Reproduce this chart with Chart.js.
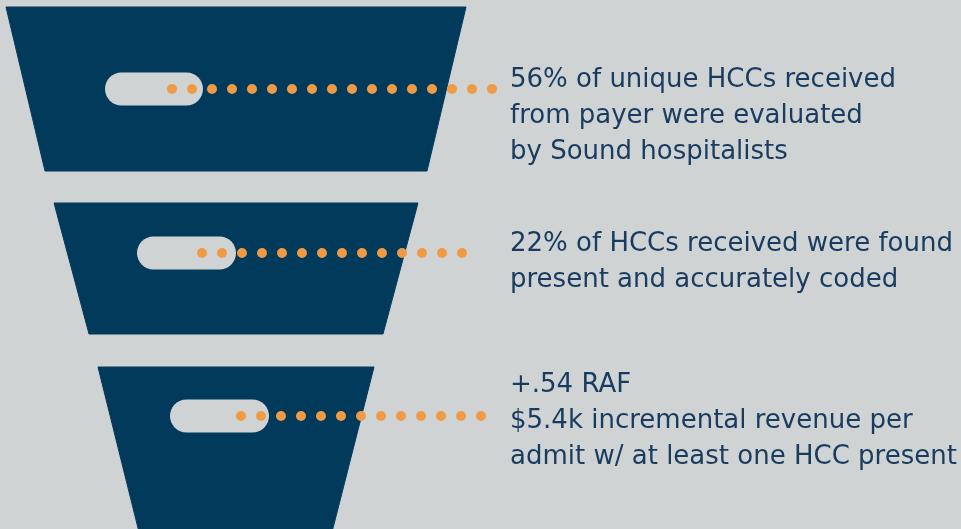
<!DOCTYPE html>
<html>
<head>
<meta charset="utf-8">
<script src="https://cdn.jsdelivr.net/npm/chart.js@4/dist/chart.umd.min.js"></script>
<style>
  html, body { margin: 0; padding: 0; background: #cfd3d4; }
  canvas { display: block; }
</style>
</head>
<body>
<canvas id="funnel" width="961" height="529"></canvas>
<script>
// Các tầng của phễu (toạ độ trên trục của biểu đồ)
const stageTop = [7, 203, 367];
const stageBottom = [171, 334, 536];
const stageTopLeft = [6, 54, 98];
const stageTopRight = [466, 418, 374];
const stageBottomLeft = [45, 89, 140];
const stageBottomRight = [427, 383, 331];

// Ô tròn dẹt trong mỗi tầng
const pillLeft = [105, 137, 170];
const pillRight = [203, 236, 269];
const pillY = [89, 253, 416];

// Đường chấm nối tới chú thích
const leaderStart = [172, 202, 241];
const leaderEnd = [492.5, 462.5, 481.5];

// Chú thích
const captions = [
    ['56% of unique HCCs received', 'from payer were evaluated', 'by Sound hospitalists'],
    ['22% of HCCs received were found', 'present and accurately coded'],
    ['+.54 RAF', '$5.4k incremental revenue per', 'admit w/ at least one HCC present']
];
const captionBaseline = [87, 251, 392];

const NAVY = '#023a5b';
const BG = '#cfd3d4';
const ORANGE = '#f09a46';
const PILL_H = 33;

const datasets = [];

// Chấm cam (vẽ trên cùng)
stageTop.forEach((_, i) => {
    datasets.push({
        data: [{x: leaderStart[i], y: pillY[i]}, {x: leaderEnd[i], y: pillY[i]}],
        borderColor: ORANGE,
        borderWidth: 10,
        borderDash: [0, 20],
        borderCapStyle: 'round',
        pointRadius: 0,
        fill: false,
        order: 0
    });
});

// Ô tròn dẹt
stageTop.forEach((_, i) => {
    datasets.push({
        data: [{x: pillLeft[i] + PILL_H / 2, y: pillY[i]}, {x: pillRight[i] - PILL_H / 2, y: pillY[i]}],
        borderColor: BG,
        borderWidth: PILL_H,
        borderCapStyle: 'round',
        pointRadius: 0,
        fill: false,
        order: 1
    });
});

// Hình thang
stageTop.forEach((_, i) => {
    datasets.push({
        data: [
            {x: stageTopLeft[i], y: stageTop[i]},
            {x: stageTopRight[i], y: stageTop[i]},
            {x: stageBottomRight[i], y: stageBottom[i]},
            {x: stageBottomLeft[i], y: stageBottom[i]},
            {x: stageTopLeft[i], y: stageTop[i]}
        ],
        backgroundColor: NAVY,
        borderColor: NAVY,
        borderWidth: 1,
        pointRadius: 0,
        fill: 'shape',
        order: 2
    });
});

const captionPlugin = {
    id: 'captions',
    afterDatasetsDraw(chart) {
        const {ctx, scales: {x, y}} = chart;
        ctx.save();
        ctx.fillStyle = '#183b5f';
        ctx.font = '26px "DejaVu Sans"';
        ctx.textBaseline = 'alphabetic';
        captions.forEach((lines, i) => {
            lines.forEach((line, j) => {
                ctx.fillText(line, x.getPixelForValue(510), y.getPixelForValue(captionBaseline[i] + j * 36));
            });
        });
        ctx.restore();
    }
};

new Chart(document.getElementById('funnel'), {
    type: 'line',
    data: { datasets },
    options: {
        responsive: false,
        animation: false,
        layout: { padding: 0 },
        plugins: { legend: { display: false }, tooltip: { enabled: false } },
        scales: {
            x: { type: 'linear', min: 0, max: 961, display: false },
            y: { type: 'linear', min: 0, max: 529, reverse: true, display: false }
        }
    },
    plugins: [captionPlugin]
});
</script>
</body>
</html>
